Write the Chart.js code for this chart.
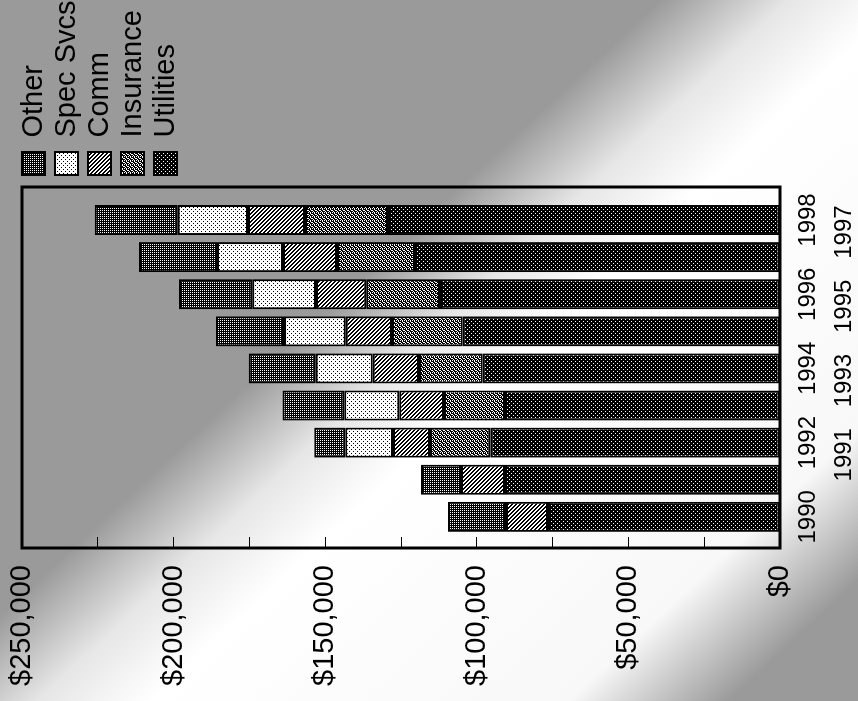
<!DOCTYPE html>
<html>
<head>
<meta charset="utf-8">
<title>Expenses by year</title>
<script src="https://cdn.jsdelivr.net/npm/chart.js@4.4.1/dist/chart.umd.min.js"></script>
<style>
  html, body { margin: 0; padding: 0; }
  body {
    width: 858px; height: 701px; overflow: hidden; position: relative;
    background: linear-gradient(137deg, #9a9a9a 0%, #9a9a9a 41%, #e6e6e6 49%, #ffffff 56%, #f8f8f8 82%, #9a9a9a 92%);
  }
  /* the chart is laid out upright and turned a quarter left */
  #wrap {
    position: absolute; left: 0; top: 0; width: 701px; height: 858px;
    transform-origin: 0 0; transform: translateY(701px) rotate(-90deg);
  }
</style>
</head>
<body>
<div id="wrap"><canvas id="chart" width="701" height="858"></canvas></div>
<script>
const years = [1990, 1991, 1992, 1993, 1994, 1995, 1996, 1997, 1998];
const utilities = [76500, 90700, 95600, 90700, 98000, 104600, 112100, 120400, 129300];
const insurance = [null, null, 19800, 20100, 21100, 23400, 24400, 25700, 27400];
const comm = [13900, 14500, 12200, 14800, 15200, 15200, 16500, 17800, 18800];
const specSvcs = [null, null, 15800, 18100, 18800, 20400, 21100, 21800, 23100];
const other = [19100, 13200, 10200, 20400, 22100, 22400, 24100, 25700, 27400];
const moneyTicks = ['$0', '$50,000', '$100,000', '$150,000', '$200,000', '$250,000'];

const FONT = 'Liberation Sans, Arial, sans-serif';
const xMin = 1989.16, xMax = 1998.89;

const canvas = document.getElementById('chart');
const ctx = canvas.getContext('2d');

// small repeating tiles that give the halftone look of the fills
function tile(bg, fg, cells, size) {
  const c = document.createElement('canvas');
  c.width = c.height = size;
  const g = c.getContext('2d');
  g.fillStyle = bg;
  g.fillRect(0, 0, size, size);
  g.fillStyle = fg;
  cells.forEach(([x, y]) => g.fillRect(x, y, 1, 1));
  return ctx.createPattern(c, 'repeat');
}

const hatch = [];
for (let y = 0; y < 4; y++) for (let x = 0; x < 4; x++) if ((x - y + 4) % 4 < 2) hatch.push([x, y]);

const fills = {
  utilities: tile('#000', '#fff', [[1, 1], [3, 3]], 4),
  insurance: tile('#000', '#fff', [[0, 0], [2, 0], [1, 1], [3, 2], [0, 2], [2, 3]], 4),
  comm: tile('#fff', '#000', hatch, 4),
  specSvcs: tile('#fff', '#000', [[1, 1], [3, 3]], 4),
  other: tile('#000', '#fff', [[0, 0], [2, 0], [0, 2], [2, 2]], 4)
};

const pts = arr => years.map((yr, i) => ({ x: yr, y: arr[i] }));
const yearTicks = s => { s.ticks = years.map(v => ({ value: v })); };

function series(label, arr, fill) {
  return {
    label, data: pts(arr), backgroundColor: fill, borderColor: '#000',
    borderWidth: 2, borderSkipped: false, xAxisID: 'x', yAxisID: 'y',
    categoryPercentage: 1, barPercentage: 0.81
  };
}

const frame = {
  id: 'frame',
  afterDatasetsDraw(chart) {
    const { ctx, chartArea: a } = chart;
    ctx.save();
    ctx.strokeStyle = '#000';
    ctx.lineWidth = 3;
    ctx.strokeRect(a.left, a.top, a.right - a.left, a.bottom - a.top);
    ctx.restore();
  }
};

const hidden = (pos, size) => ({
  type: 'linear', position: pos,
  ticks: { display: false }, grid: { display: false, drawTicks: false }, border: { display: false },
  afterFit: s => { if (pos === 'top') s.height = size; else s.width = size; }
});

new Chart(ctx, {
  type: 'bar',
  data: {
    datasets: [
      series('Utilities', utilities, fills.utilities),
      series('Insurance', insurance, fills.insurance),
      series('Comm', comm, fills.comm),
      series('Spec Svcs', specSvcs, fills.specSvcs),
      series('Other', other, fills.other)
    ]
  },
  options: {
    responsive: false,
    animation: false,
    layout: { padding: { left: 15, right: -9.5, top: 15, bottom: 0 } },
    plugins: {
      tooltip: { enabled: false },
      legend: {
        position: 'right', align: 'start', reverse: true, maxWidth: 260,
        labels: {
          boxWidth: 23, boxHeight: 23, padding: 4, color: '#000',
          font: { family: FONT, size: 29 }
        }
      }
    },
    scales: {
      x: {
        type: 'linear', position: 'bottom', stacked: true, offset: false,
        min: xMin, max: xMax, weight: 0,
        afterBuildTicks: yearTicks,
        ticks: {
          callback: v => (v % 2 === 0 ? String(v) : ''),
          color: '#000', font: { family: FONT, size: 24 }, padding: 14,
          maxRotation: 0, autoSkip: false
        },
        grid: { display: false, drawTicks: false, offset: false }, border: { display: false },
        afterFit: s => { s.height = 41; }
      },
      x2: {
        type: 'linear', position: 'bottom', offset: false, min: xMin, max: xMax, weight: 1,
        afterBuildTicks: yearTicks,
        ticks: {
          callback: v => (v % 2 === 1 ? String(v) : ''),
          color: '#000', font: { family: FONT, size: 24 }, padding: 9,
          labelOffset: 25, maxRotation: 0, autoSkip: false
        },
        grid: { display: false, drawTicks: false }, border: { display: false },
        afterFit: s => { s.height = 37; }
      },
      xTop: hidden('top', 7),
      y: {
        stacked: true, min: 0, max: 250000,
        ticks: {
          stepSize: 25000,
          callback: v => (v % 50000 === 0 ? moneyTicks[v / 50000] : ''),
          color: '#000', font: { family: FONT, size: 29 }, padding: 28
        },
        grid: { drawOnChartArea: false, tickLength: -11, color: '#000', lineWidth: 1 },
        border: { display: false },
        afterFit: s => { s.width = 138; s.paddingTop = 0; s.paddingBottom = 0; }
      },
      yGap: hidden('right', 8)
    }
  },
  plugins: [frame]
});
</script>
</body>
</html>
